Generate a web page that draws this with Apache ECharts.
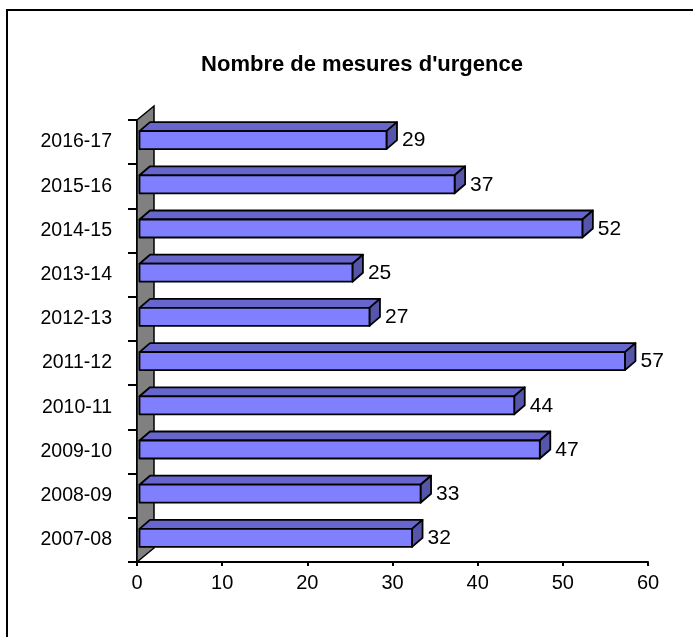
<!DOCTYPE html>
<html>
<head>
<meta charset="utf-8">
<script src="https://cdn.jsdelivr.net/npm/echarts@6/dist/echarts.min.js"></script>
<style>
html,body{margin:0;padding:0;background:#fff;}
#chart{width:693px;height:637px;}
</style>
</head>
<body>
<div id="chart"></div>
<script>
const categories = ['2007-08','2008-09','2009-10','2010-11','2011-12','2012-13','2013-14','2014-15','2015-16','2016-17'];
const values = [32,33,47,44,57,27,25,52,37,29];
const xTicks = [0,10,20,30,40,50,60];
const titleText = "Nombre de mesures d'urgence";

const FONT = "'Liberation Sans', Arial, sans-serif";
const chart = echarts.init(document.getElementById('chart'), null, {renderer:'canvas'});

const barData = values.map((v,i)=>[v, categories[i]]);

chart.setOption({
  animation:false,
  backgroundColor:'#fff',
  grid:{left:137, right:45, top:120, bottom:75, containLabel:false},
  xAxis:{
    type:'value', min:xTicks[0], max:xTicks[xTicks.length-1], interval:10,
    axisLine:{show:true, lineStyle:{color:'#000', width:2}},
    axisTick:{show:true, length:4, lineStyle:{color:'#000', width:2}},
    splitLine:{show:false},
    axisLabel:{color:'#000', fontSize:20, fontFamily:FONT, margin:11}
  },
  yAxis:{
    type:'category', data:categories,
    axisLine:{show:true, lineStyle:{color:'#000', width:2}},
    axisTick:{show:true, length:9, lineStyle:{color:'#000', width:2}},
    axisLabel:{color:'#000', fontSize:19.5, fontFamily:FONT, margin:25}
  },
  graphic:[
    {type:'rect', shape:{x:7,y:10,width:900,height:900}, style:{fill:null, stroke:'#000', lineWidth:2}, z:-1},
    {type:'text', x:362, y:65, style:{text:titleText, font:"bold 22px "+FONT, fill:'#000', textAlign:'center', textVerticalAlign:'middle'}}
  ],
  series:[
    {
      type:'custom', z:1, silent:true,
      data:[[0, categories[0]]],
      renderItem:function(params, api){
        const cs = params.coordSys;
        const dx = 17, dy = -14;
        const x = cs.x, yt = cs.y, yb = cs.y + cs.height;
        return {
          type:'polygon',
          shape:{points:[[x,yt],[x+dx,yt+dy],[x+dx,yb+dy],[x,yb]]},
          style:{fill:'#808080', stroke:'#000', lineWidth:1.5}
        };
      }
    },
    {
      type:'custom', z:2, silent:true,
      encode:{x:0, y:1},
      data:barData,
      renderItem:function(params, api){
        const v = api.value(0);
        const ci = api.value(1);
        const p0 = api.coord([0, ci]);
        const p1 = api.coord([v, ci]);
        const h = 18, ox = 2.5, oy = -2, dx = 10.5, dy = -9;
        const x0 = p0[0]+ox, x1 = p1[0]+ox;
        const yc = p0[1]+oy, yt = yc-h/2, yb = yc+h/2;
        const stroke = {stroke:'#000', lineWidth:1.8, lineJoin:'round'};
        return {
          type:'group',
          children:[
            {type:'polygon', shape:{points:[[x0,yt],[x0+dx,yt+dy],[x1+dx,yt+dy],[x1,yt]]}, style:Object.assign({fill:'#6666CC'}, stroke)},
            {type:'polygon', shape:{points:[[x1,yt],[x1+dx,yt+dy],[x1+dx,yb+dy],[x1,yb]]}, style:Object.assign({fill:'#5555AA'}, stroke)},
            {type:'rect', shape:{x:x0, y:yt, width:x1-x0, height:h}, style:Object.assign({fill:'#8080FF'}, stroke)},
            {type:'text', x:x1+dx+5, y:yc+0.5, style:{text:String(v), font:"21px "+FONT, fill:'#000', textAlign:'left', textVerticalAlign:'middle'}}
          ]
        };
      }
    }
  ]
});
</script>
</body>
</html>
